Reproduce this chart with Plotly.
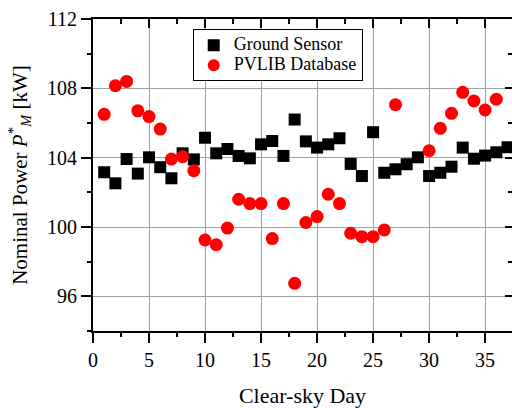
import plotly.graph_objects as go

days_ground = list(range(1, 38))
ground = [103.16, 102.52, 103.92, 103.08, 104.02, 103.45, 102.81, 104.25, 103.9, 105.15,
          104.25, 104.5, 104.1, 103.96, 104.77, 104.96, 104.1, 106.2, 104.94, 104.58,
          104.77, 105.12, 103.64, 102.94, 105.47, 103.13, 103.33, 103.62, 104.02, 102.94,
          103.13, 103.48, 104.58, 103.94, 104.12, 104.31, 104.6]

days_pvlib = [1, 2, 3, 4, 5, 6, 7, 8, 9, 10, 11, 12, 13, 14, 15, 16, 17, 18, 19, 20,
              21, 22, 23, 24, 25, 26, 27, 30, 31, 32, 33, 34, 35, 36]
pvlib = [106.5, 108.15, 108.4, 106.7, 106.37, 105.65, 103.92, 104.06, 103.25, 99.25,
         98.98, 99.94, 101.6, 101.35, 101.35, 99.33, 101.35, 96.75, 100.26, 100.6,
         101.89, 101.35, 99.64, 99.44, 99.44, 99.83, 107.06, 104.4, 105.69, 106.56,
         107.77, 107.27, 106.75, 107.37]

series_names = ["Ground Sensor", "PVLIB Database"]

x_ticks = [0, 5, 10, 15, 20, 25, 30, 35]
y_ticks = [96, 100, 104, 108, 112]
x_range = [0, 37.4]
y_range = [94, 112]

FONT = "Liberation Serif, DejaVu Serif, serif"


def legend_label(name):
    return "<span style='font-size:18px'>" + name + "</span>"


fig = go.Figure()
fig.add_trace(go.Scatter(
    x=days_ground, y=ground, mode="markers", name=legend_label(series_names[0]),
    marker=dict(symbol="square", size=12, color="black", line=dict(width=0)),
))
fig.add_trace(go.Scatter(
    x=days_pvlib, y=pvlib, mode="markers", name=legend_label(series_names[1]),
    marker=dict(symbol="circle", size=13, color="#ff0000", line=dict(width=0)),
))
# invisible trace to activate mirror axes (top / right)
fig.add_trace(go.Scatter(x=[None], y=[None], xaxis="x2", yaxis="y2",
                         showlegend=False, hoverinfo="skip"))

axis_common = dict(showline=True, linecolor="black", linewidth=2,
                   tickfont=dict(family=FONT, size=20, color="black"),
                   tickcolor="black", tickwidth=1.5, zeroline=False)

fig.update_layout(
    width=512, height=408,
    margin=dict(l=93, r=0, t=19, b=77),
    paper_bgcolor="white", plot_bgcolor="white",
    font=dict(family=FONT, color="black"),
    showlegend=True,
    legend=dict(
        x=0.238, y=0.967, xanchor="left", yanchor="top",
        bgcolor="white", bordercolor="black", borderwidth=1,
        font=dict(family=FONT, size=13, color="black"),
        tracegroupgap=0, itemsizing="constant",
    ),
    xaxis=dict(
        range=x_range, tickvals=x_ticks, ticks="outside", ticklen=10,
        showgrid=True, gridcolor="#a0a0a0", gridwidth=1,
        minor=dict(dtick=2.5, tick0=0, ticks="outside", ticklen=4,
                   tickcolor="black", tickwidth=1.5, showgrid=False),
        title=dict(text="Clear-sky Day", font=dict(family=FONT, size=22), standoff=21),
        **axis_common,
    ),
    yaxis=dict(
        range=y_range, tickvals=y_ticks, ticks="outside", ticklen=10,
        showgrid=True, gridcolor="#a0a0a0", gridwidth=1,
        minor=dict(dtick=2, tick0=0, ticks="outside", ticklen=4,
                   tickcolor="black", tickwidth=1.5, showgrid=False),
        title=dict(text="Nominal Power <i>P</i><sup>*</sup><sub><i>M</i></sub> [kW]",
                   font=dict(family=FONT, size=21), standoff=14),
        **axis_common,
    ),
    xaxis2=dict(
        range=x_range, tickvals=x_ticks, overlaying="x", side="top", anchor="y2",
        ticks="inside", ticklen=9, showticklabels=False, showgrid=False,
        minor=dict(dtick=2.5, tick0=0, ticks="inside", ticklen=5,
                   tickcolor="black", tickwidth=1.5, showgrid=False),
        **axis_common,
    ),
    yaxis2=dict(
        range=y_range, tickvals=y_ticks, overlaying="y", side="right", anchor="x2",
        ticks="inside", ticklen=7, showticklabels=False, showgrid=False,
        minor=dict(dtick=2, tick0=0, ticks="inside", ticklen=4,
                   tickcolor="black", tickwidth=1.5, showgrid=False),
        **axis_common,
    ),
)

fig.write_html("out.html")
